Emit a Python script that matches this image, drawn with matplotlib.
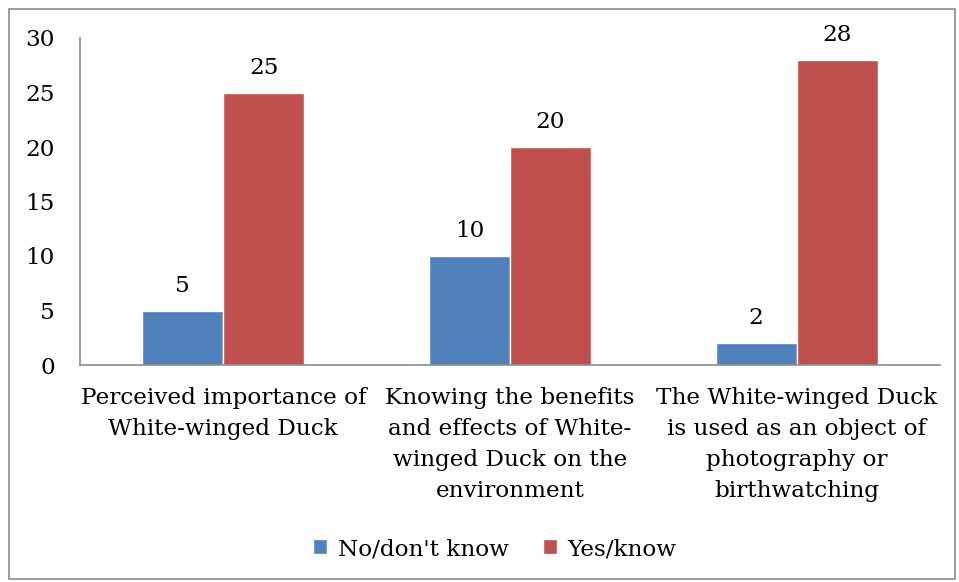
import numpy as np
import matplotlib
matplotlib.use('Agg')
from matplotlib import pyplot as pp
from matplotlib.patches import Rectangle

pp.rcParams['font.family'] = 'DejaVu Serif'

categories = ['Perceived importance of\nWhite-winged Duck',
              'Knowing the benefits\nand effects of White-\nwinged Duck on the\nenvironment',
              'The White-winged Duck\nis used as an object of\nphotography or\nbirthwatching']
series_names = ["No/don't know", 'Yes/know']
no_vals = [5, 10, 2]
yes_vals = [25, 20, 28]
yticks = [0, 5, 10, 15, 20, 25, 30]

blue = '#4F81BD'
red = '#C0504D'
fs = 16.7

fig = pp.figure(figsize=(9.59, 5.82), dpi=100)
ax = fig.add_axes([80/959, 1-365/582, 860/959, 327/582])

x = np.arange(len(categories))
w = 0.283
b1 = ax.bar(x - w/2, no_vals, w, color=blue, edgecolor='white', linewidth=1, label=series_names[0])
b2 = ax.bar(x + w/2, yes_vals, w, color=red, edgecolor='white', linewidth=1, label=series_names[1])

for bars, vals in ((b1, no_vals), (b2, yes_vals)):
	for r, v in zip(bars, vals):
		ax.annotate('%d' % v, (r.get_x() + r.get_width()/2, v), xytext=(0, 10),
			textcoords='offset points', ha='center', va='bottom', fontsize=fs)

ax.set_xlim(-0.5, 2.5)
ax.set_ylim(0, 30)
ax.set_yticks(yticks)
ax.set_xticks(x)
ax.set_xticklabels(categories, fontsize=fs, linespacing=1.52)
ax.tick_params(axis='y', length=0, pad=18, labelsize=fs)
ax.tick_params(axis='x', length=0, pad=16)
for s in ['top', 'right']:
	ax.spines[s].set_visible(False)
for s in ['left', 'bottom']:
	ax.spines[s].set_color('#8C8C8C')
	ax.spines[s].set_linewidth(1.2)

ax.legend(loc='center', bbox_to_anchor=(495/959, 1-549/582), bbox_transform=fig.transFigure,
	ncol=2, frameon=False, fontsize=fs, handlelength=0.6, handleheight=0.6,
	handletextpad=0.45, columnspacing=1.5)

fig.patches.append(Rectangle((9/959, 1-579/582), 946/959, 570/582, transform=fig.transFigure,
	fill=False, edgecolor='#8C8C8C', linewidth=1.2))

fig.savefig('out.png', dpi=100)
